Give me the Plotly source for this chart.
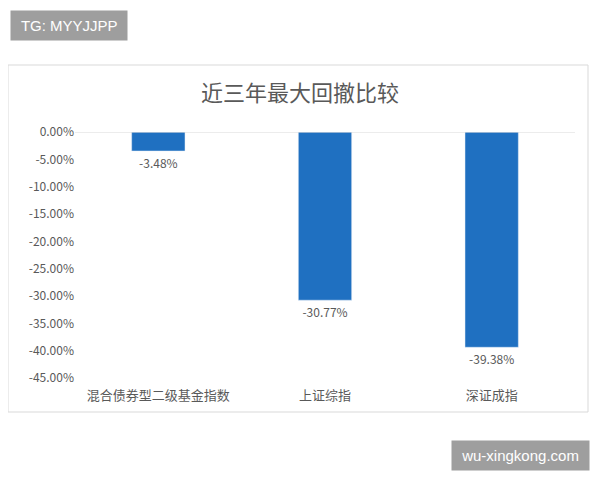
import plotly.graph_objects as go

categories = ["混合债券型二级基金指数", "上证综指", "深证成指"]
drawdowns = [-3.48, -30.77, -39.38]
tick_vals = [0, -5, -10, -15, -20, -25, -30, -35, -40, -45]
tick_text = ["%.2f%%" % v for v in tick_vals]

font = "Noto Sans CJK SC"
grey = "#595959"

# the page has an 8px body margin; positions below are in page pixels
L, T, W, H = 67, 124, 500, 246


def px(x):
    return (x - 8 - L) / W


def py(y):
    return (T + H - (y - 8)) / H


fig = go.Figure(go.Bar(
    x=categories, y=drawdowns, marker_color="#1F70C1", width=0.32,
    text=["%.2f%%" % v for v in drawdowns], textposition="outside",
    textfont=dict(size=12, color=grey, family=font), cliponaxis=False,
))

fig.update_layout(
    width=600, height=480,
    margin=dict(l=L, r=600 - L - W, t=T, b=480 - T - H),
    paper_bgcolor="white", plot_bgcolor="white",
    showlegend=False,
    font=dict(family=font, color=grey, size=13),
    title=dict(text="近三年最大回撤比较", xref="paper", x=px(300), xanchor="center",
               y=1 - (93 - 8) / 480, yanchor="middle",
               font=dict(size=22, color=grey, family=font)),
    yaxis=dict(range=[-45, 0], tickvals=tick_vals, ticktext=tick_text,
               showgrid=False, zeroline=False, ticks="",
               tickfont=dict(size=12, color=grey)),
    xaxis=dict(showgrid=False, ticks="", showline=False, ticklabelstandoff=8,
               tickfont=dict(size=13, color=grey)),
    shapes=[
        dict(type="line", xref="paper", yref="y", x0=0, x1=1, y0=0, y1=0,
             line=dict(color="#D9D9D9", width=1)),
        dict(type="rect", xref="paper", yref="paper",
             x0=px(8), x1=px(588), y0=py(412), y1=py(65),
             line=dict(color="#D9D9D9", width=1)),
    ],
    annotations=[
        dict(text=" TG: MYYJJPP ", xref="paper", yref="paper",
             x=px(10), y=py(10), xanchor="left", yanchor="top",
             showarrow=False, bgcolor="#9E9E9E", borderpad=6,
             font=dict(color="white", size=15, family="Liberation Sans")),
        dict(text=" wu-xingkong.com ", xref="paper", yref="paper",
             x=px(590), y=py(440), xanchor="right", yanchor="top",
             showarrow=False, bgcolor="#9E9E9E", borderpad=6,
             font=dict(color="white", size=15, family="Liberation Sans")),
    ],
)

fig.write_html("out.html")
